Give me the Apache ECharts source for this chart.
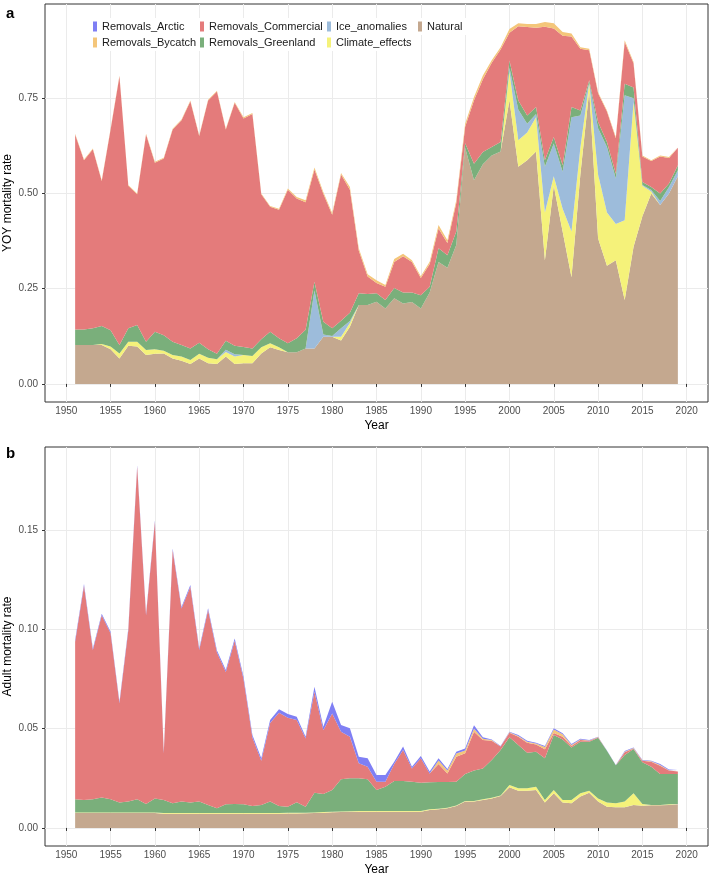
<!DOCTYPE html>
<html>
<head>
<meta charset="utf-8">
<script src="https://cdn.jsdelivr.net/npm/echarts@6/dist/echarts.min.js"></script>
<style>
html, body { margin: 0; padding: 0; background: #fff; }
#main { width: 709px; height: 880px; }
</style>
</head>
<body>
<div id="main"></div>
<script>
// years on the x axis
var years = [1951,1952,1953,1954,1955,1956,1957,1958,1959,1960,
  1961,1962,1963,1964,1965,1966,1967,1968,1969,1970,
  1971,1972,1973,1974,1975,1976,1977,1978,1979,1980,
  1981,1982,1983,1984,1985,1986,1987,1988,1989,1990,
  1991,1992,1993,1994,1995,1996,1997,1998,1999,2000,
  2001,2002,2003,2004,2005,2006,2007,2008,2009,2010,
  2011,2012,2013,2014,2015,2016,2017,2018,2019]
var yearTicks = [1950,1955,1960,1965,1970,1975,1980,1985,1990,1995,2000,2005,2010,2015,2020]
var yoyTicks = [0, 0.25, 0.5, 0.75]
var adultTicks = [0, 0.05, 0.1, 0.15]

// panel a : YOY mortality
var yoyNatural = [.102,.102,.102,.102,.091,.067,.100,.098,.076,.079,
  .080,.067,.061,.052,.067,.054,.052,.072,.052,.054,
  .054,.080,.096,.089,.083,.083,.093,.093,.124,.124,
  .114,.150,.207,.207,.216,.198,.225,.211,.215,.198,
  .240,.320,.305,.365,.620,.535,.577,.600,.610,.745,
  .570,.587,.610,.325,.520,.400,.280,.550,.770,.382,
  .310,.325,.220,.360,.440,.500,.470,.500,.545]
var yoyClimate = [0,0,0,.003,.007,.013,.011,.013,.013,.012,
  .007,.009,.011,.011,.012,.015,.013,.012,.020,.022,
  .019,.016,.011,.007,0,0,0,0,0,0,
  .010,.010,0,0,0,0,0,0,0,0,
  0,0,0,0,0,0,0,0,0,.075,
  .070,.073,.090,.125,.025,.060,.120,.070,.020,.168,
  .140,.095,.210,.380,.080,.005,0,0,0]
var yoyIce = [0,0,0,0,0,0,0,0,0,0,
  0,0,0,0,0,0,0,.006,.006,0,
  0,0,0,0,0,0,0,.152,.006,.002,
  .022,.005,0,0,0,0,0,0,0,0,
  0,0,0,0,0,0,0,0,0,.010,
  .080,.023,.009,.120,.086,.097,.300,.085,0,.121,
  .172,.119,.328,.010,.002,.004,.010,.017,.016]
var yoyGreenland = [.041,.041,.044,.047,.043,.022,.035,.044,.022,.046,
  .041,.035,.030,.030,.029,.022,.014,.023,.022,.021,
  .020,.021,.030,.024,.024,.037,.049,.023,.033,.020,
  .020,.022,.031,.029,.022,.022,.027,.029,.025,.035,
  .015,.036,.033,.035,.012,.043,.032,.022,.025,.019,
  .024,.022,.018,.017,.017,.017,.027,.013,.007,.017,
  .013,.013,.030,.028,.008,.008,.020,.009,.013]
var yoyCommercial = [.512,.444,.470,.381,.527,.706,.374,.343,.544,.444,
  .464,.557,.590,.649,.543,.653,.689,.555,.638,.600,
  .616,.381,.328,.337,.403,.367,.335,.295,.336,.298,
  .384,.323,.112,.046,.027,.035,.068,.095,.080,.045,
  .060,.052,.032,.075,.043,.167,.191,.221,.243,.073,
  .195,.232,.208,.351,.285,.340,.185,.162,.079,.075,
  .080,.093,.110,.064,.067,.068,.097,.067,.046]
var yoyBycatch = [.002,.002,.002,.002,.002,.002,.002,.002,.002,.002,
  .002,.002,.002,.002,.002,.002,.002,.002,.002,.003,
  .002,.002,.002,.003,.003,.004,.005,.005,.005,.005,
  .004,.007,.006,.006,.007,.005,.008,.007,.005,.005,
  .006,.009,.007,.007,.008,.008,.010,.007,.006,.010,
  .008,.008,.010,.012,.014,.010,.008,.004,.004,.003,
  .003,.003,.004,.003,.003,.002,.003,.003,.002]
var yoyArctic = [0,0,0,0,0,0,0,0,0,0,
  0,0,0,0,0,0,0,0,0,0,
  0,0,0,0,0,0,0,0,0,0,
  0,0,0,0,0,0,0,0,0,0,
  0,0,0,0,0,0,0,0,0,0,
  0,0,0,0,0,0,0,0,0,0,
  0,0,0,0,0,0,0,0,0]

// panel b : adult mortality
var adNatural = [.0075,.0075,.0075,.0075,.0075,.0075,.0075,.0075,.0075,.0075,
  .0072,.0072,.0072,.0072,.0072,.0072,.0072,.0072,.0072,.0072,
  .0072,.0072,.0072,.0072,.0073,.0073,.0074,.0075,.0077,.0079,
  .0080,.0081,.0082,.0082,.0082,.0082,.0082,.0082,.0082,.0082,
  .0091,.0094,.0099,.0110,.0133,.0133,.0141,.0149,.0161,.0205,
  .0188,.0188,.0191,.0128,.0175,.0128,.0124,.0158,.0178,.0133,
  .0107,.0104,.0104,.0116,.0112,.0114,.0114,.0116,.0119]
var adClimate = [.0003,.0003,.0003,.0003,.0003,.0003,.0003,.0003,.0003,.0003,
  .0003,.0003,.0003,.0003,.0003,.0003,.0003,.0003,.0003,.0003,
  .0003,.0003,.0003,.0003,.0003,.0003,.0003,.0003,.0003,.0003,
  .0003,.0003,.0003,.0003,.0003,.0003,.0003,.0003,.0003,.0003,
  .0003,.0003,.0003,.0003,.0003,.0003,.0003,.0003,.0003,.0012,
  .0012,.0012,.0017,.0013,.0016,.0013,.0017,.0017,.0010,.0016,
  .0021,.0020,.0029,.0059,.0009,.0002,.0002,.0003,.0002]
var adIce = [0,0,0,0,0,0,0,0,0,0,
  0,0,0,0,0,0,0,0,0,0,
  0,0,0,0,0,0,0,0,0,0,
  0,0,0,0,0,0,0,0,0,0,
  0,0,0,0,0,0,0,0,0,0,
  0,0,0,0,0,0,0,0,0,0,
  0,0,0,0,0,0,0,0,0]
var adGreenland = [.0066,.0063,.0066,.0075,.0066,.0050,.0055,.0066,.0043,.0071,
  .0066,.0049,.0058,.0053,.0058,.0041,.0024,.0044,.0046,.0044,
  .0036,.0041,.0058,.0036,.0031,.0054,.0030,.0100,.0091,.0109,
  .0162,.0166,.0165,.0160,.0106,.0123,.0152,.0152,.0148,.0143,
  .0136,.0135,.0130,.0120,.0136,.0153,.0156,.0190,.0229,.0240,
  .0218,.0179,.0176,.0210,.0277,.0305,.0265,.0260,.0247,.0306,
  .0261,.0192,.0235,.0223,.0210,.0193,.0156,.0153,.0151]
var adCommercial = [.0795,.1080,.0753,.0919,.0837,.0500,.0864,.1676,.0951,.1393,
  .0235,.1276,.0973,.1088,.0764,.0982,.0785,.0667,.0822,.0631,
  .0345,.0223,.0396,.0469,.0449,.0414,.0344,.0508,.0322,.0386,
  .0240,.0210,.0076,.0064,.0042,.0025,.0085,.0156,.0067,.0123,
  .0045,.0090,.0043,.0126,.0104,.0196,.0143,.0098,.0017,.0023,
  .0042,.0051,.0036,.0045,.0010,.0014,.0007,.0008,.0005,.0002,
  0,0,.0013,.0003,.0008,.0025,.0042,.0017,.0012]
var adBycatch = [0,0,0,0,0,0,0,0,0,0,
  0,0,0,0,0,0,0,0,0,0,
  0,0,0,0,0,0,0,0,0,0,
  0,0,0,0,0,0,0,0,0,0,
  0,.0018,.0015,.0016,.0014,.0015,.0007,.0003,.0001,.0002,
  .0004,.0005,.0005,.0012,.0018,.0012,.0005,.0003,.0001,.0001,
  0,0,.0003,.0002,.0001,.0002,.0003,.0002,.0003]
var adArctic = [.0008,.0008,.0008,.0008,.0008,.0008,.0008,.0008,.0008,.0008,
  .0008,.0008,.0008,.0008,.0008,.0009,.0010,.0010,.0012,.0012,
  .0012,.0012,.0015,.0018,.0018,.0016,.0009,.0026,.0017,.0059,
  .0034,.0042,.0033,.0042,.0034,.0034,.0012,.0017,.0009,.0012,
  .0009,.0011,.0007,.0009,.0011,.0017,.0007,.0003,.0002,.0003,
  .0004,.0005,.0005,.0005,.0006,.0005,.0005,.0004,.0002,.0002,
  .0001,.0001,.0004,.0003,.0002,.0003,.0005,.0004,.0005]

var names = ['Natural','Climate_effects','Ice_anomalies','Removals_Greenland','Removals_Commercial','Removals_Bycatch','Removals_Arctic']
var colors = {
  Natural: '#c4a88f',
  Climate_effects: '#f5f27a',
  Ice_anomalies: '#9dbcdb',
  Removals_Greenland: '#7aaf7b',
  Removals_Commercial: '#e47b7b',
  Removals_Bycatch: '#f4c67a',
  Removals_Arctic: '#7f7ff4'
}
var panelA = [yoyNatural, yoyClimate, yoyIce, yoyGreenland, yoyCommercial, yoyBycatch, yoyArctic]
var panelB = [adNatural, adClimate, adIce, adGreenland, adCommercial, adBycatch, adArctic]

var font = 'Liberation Sans, Arial, sans-serif'

// value first, year second, so the stack goes on the value dimension
function pairs(vals) {
  return years.map(function (y, i) { return [vals[i], y] })
}

var series = []
function addPanel(p, arrs) {
  names.forEach(function (n, k) {
    series.push({
      name: n, type: 'line', xAxisIndex: p, yAxisIndex: p,
      stack: 'p' + p, symbol: 'none', showSymbol: false,
      encode: { x: 1, y: 0 },
      lineStyle: { width: 0 },
      itemStyle: { color: colors[n] },
      areaStyle: { color: colors[n], opacity: 1 },
      data: pairs(arrs[k])
    })
  })
}
addPanel(0, panelA)
addPanel(1, panelB)

function xAxis(p) {
  return {
    type: 'value', gridIndex: p, min: 1947.6, max: 2022.4,
    axisLine: { show: false },
    axisTick: { show: true, length: 3, customValues: yearTicks, lineStyle: { color: '#333' } },
    axisLabel: { customValues: yearTicks, color: '#4d4d4d', fontSize: 10, margin: 4, fontFamily: font,
      formatter: function (v) { return String(Math.round(v)) } },
    splitLine: { show: true, lineStyle: { color: '#ebebeb', width: 1 } },
    name: 'Year', nameLocation: 'middle', nameGap: 18, nameMoveOverlap: false,
    nameTextStyle: { color: '#000', fontSize: 12, fontFamily: font }
  }
}
function yAxis(p, min, max, ticks, title) {
  return {
    type: 'value', gridIndex: p, min: min, max: max,
    axisLine: { show: false },
    axisTick: { show: true, length: 3, customValues: ticks, lineStyle: { color: '#333' } },
    axisLabel: { customValues: ticks, color: '#4d4d4d', fontSize: 10, margin: 7, fontFamily: font,
      formatter: function (v) { return v.toFixed(2) } },
    splitLine: { show: true, lineStyle: { color: '#ebebeb', width: 1 } },
    name: title, nameLocation: 'middle', nameGap: 31, nameRotate: 90, nameMoveOverlap: false,
    nameTextStyle: { color: '#000', fontSize: 12, fontFamily: font }
  }
}

function legend(left, data) {
  return {
    orient: 'vertical', left: left, top: 18, data: data,
    icon: 'rect', itemWidth: 4, itemHeight: 10, itemGap: 5,
    backgroundColor: '#fff', padding: [3, 8, 3, 4],
    textStyle: { color: '#1a1a1a', fontSize: 11, fontFamily: font }
  }
}

var chart = echarts.init(document.getElementById('main'))
chart.setOption({
  animation: false,
  title: [
    { text: 'a', left: 1, top: 1, textStyle: { fontSize: 15, fontWeight: 'bold', color: '#000', fontFamily: font } },
    { text: 'b', left: 1, top: 441, textStyle: { fontSize: 15, fontWeight: 'bold', color: '#000', fontFamily: font } }
  ],
  legend: [
    legend(89, ['Removals_Arctic', 'Removals_Bycatch']),
    legend(196, ['Removals_Commercial', 'Removals_Greenland']),
    legend(323, ['Ice_anomalies', 'Climate_effects']),
    legend(414, ['Natural'])
  ],
  grid: [
    { left: 45, right: 1, top: 4, bottom: 478, show: true, borderColor: '#333', borderWidth: 1,
      containLabel: false, outerBoundsMode: 'none' },
    { left: 45, right: 1, top: 447, bottom: 34, show: true, borderColor: '#333', borderWidth: 1,
      containLabel: false, outerBoundsMode: 'none' }
  ],
  xAxis: [xAxis(0), xAxis(1)],
  yAxis: [
    yAxis(0, -0.0475, 0.9975, yoyTicks, 'YOY mortality rate'),
    yAxis(1, -0.0091, 0.192, adultTicks, 'Adult mortality rate')
  ],
  series: series
})
</script>
</body>
</html>
